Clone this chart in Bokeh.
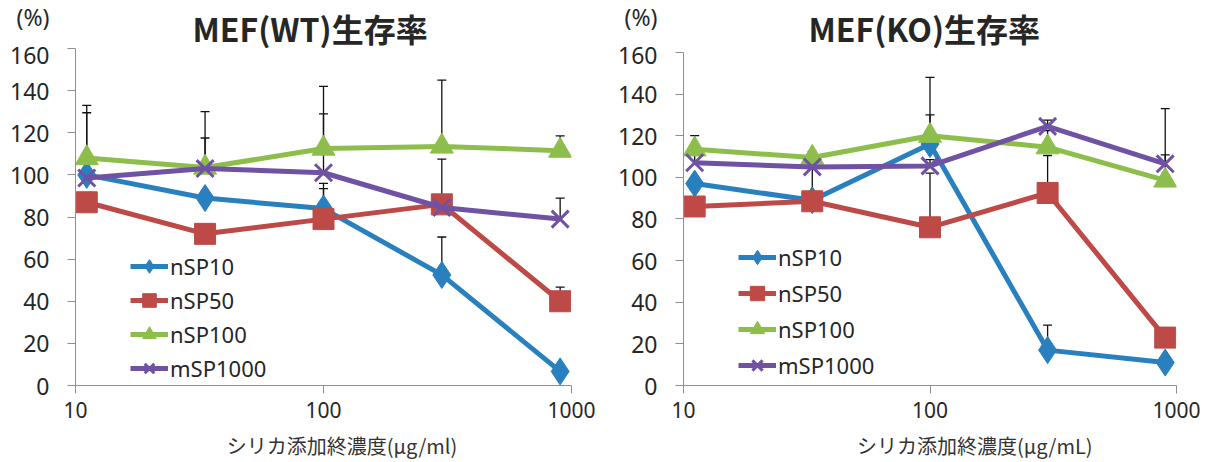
from bokeh.plotting import figure
from bokeh.models import (Range1d, FixedTicker, BasicTickFormatter, Label, Whisker,
                          TeeHead, ColumnDataSource, Legend, LegendItem)
from bokeh.layouts import row, column
from bokeh.embed import file_html
from bokeh.resources import INLINE

# ---- data ----
conc = [11.1, 33.3, 100, 300, 900]
series_names = ["nSP10", "nSP50", "nSP100", "mSP1000"]

wt_nsp10 = [100, 89, 84, 52.5, 6.7]
wt_nsp50 = [87, 72, 79, 86, 40]
wt_nsp100 = [108, 103.5, 112.5, 113.5, 111.5]
wt_msp1000 = [98.5, 103, 101, 84.5, 79]
wt_err_nsp10 = [8, 3, 9.5, 18, 2]
wt_err_nsp50 = [3, 3, 17, 21.5, 6.7]
wt_err_nsp100 = [25, 14, 29.5, 31.5, 7]
wt_err_msp1000 = [31, 27, 28, 3, 10]

ko_nsp10 = [97, 89, 116, 17, 11]
ko_nsp50 = [86, 88.5, 76, 92.5, 23]
ko_nsp100 = [113.5, 109.5, 120, 114.5, 98.5]
ko_msp1000 = [107, 105, 105.5, 124.5, 106.5]
ko_err_nsp10 = [3, 3, 14, 12, 2]
ko_err_nsp50 = [3, 16, 26, 18, 3]
ko_err_nsp100 = [6.5, 3, 28, 8, 12.3]
ko_err_msp1000 = [7, 3, 3, 3, 26.5]

y_ticks = [0, 20, 40, 60, 80, 100, 120, 140, 160]
x_ticks = [10, 100, 1000]

titles = ["MEF(WT)生存率", "MEF(KO)生存率"]
xlabels = ["シリカ添加終濃度(μg/ml)", "シリカ添加終濃度(μg/mL)"]
unit_label = "(%)"

colors = ["#2980BF", "#BD4A47", "#8DBE4C", "#6F52A3"]
markers = ["diamond", "square", "triangle", "x"]
msizes = [27, 21, 23, 24]

TXT = "#262626"
AX = "#8f8f8f"
MAIN_H = 431
FOOTER_H = 31


def make_chart(title, xlabel, vals, errs, width, bl, br, y_top, title_dx,
               xl_x, leg_x, leg_y, row_h):
    p = figure(width=width, height=MAIN_H, x_axis_type="log",
               x_range=Range1d(10, 1000), y_range=Range1d(0, y_top),
               output_backend="svg", toolbar_location=None,
               min_border_left=bl, min_border_right=br, min_border_top=48,
               min_border_bottom=46)
    p.title.text = title
    p.title.align = "left"
    p.title.offset = title_dx
    p.title.standoff = -4
    p.title.text_font = "Noto Sans CJK JP"
    p.title.text_font_style = "bold"
    p.title.text_font_size = "32px"
    p.title.text_color = TXT

    p.outline_line_color = None
    p.xgrid.visible = False
    p.ygrid.visible = False

    p.yaxis.ticker = FixedTicker(ticks=y_ticks, minor_ticks=[])
    p.yaxis.bounds = (0, 160)
    # unit "(%)" sits one line above the top tick label, as in the original
    p.yaxis.major_label_overrides = {160: unit_label + "\n160\n "}
    p.xaxis.ticker = FixedTicker(ticks=x_ticks, minor_ticks=[])
    p.xaxis.formatter = BasicTickFormatter(use_scientific=False)
    for ax in (p.xaxis, p.yaxis):
        ax.axis_line_color = AX
        ax.major_tick_line_color = AX
        ax.major_tick_out = 8
        ax.major_tick_in = 0
        ax.minor_tick_line_color = None
        ax.major_label_text_color = TXT
        ax.major_label_text_font = "Noto Sans"
    p.yaxis.major_label_text_font_size = "23px"
    p.yaxis.major_label_standoff = 18
    p.xaxis.major_label_text_font_size = "21px"
    p.xaxis.major_label_standoff = 8

    items = []
    for i, name in enumerate(series_names):
        src = ColumnDataSource(dict(x=conc, y=vals[i],
                                    upper=[v + e for v, e in zip(vals[i], errs[i])]))
        w = Whisker(source=src, base="x", upper="upper", lower="y",
                    dimension="height", line_color="#111111", line_width=1.3,
                    upper_head=TeeHead(size=9, line_color="#111111", line_width=1.3),
                    lower_head=None, level="underlay")
        p.add_layout(w)
    for i, name in enumerate(series_names):
        src = ColumnDataSource(dict(x=conc, y=vals[i]))
        ln = p.line("x", "y", source=src, line_color=colors[i], line_width=5)
        if markers[i] == "x":
            sc = p.scatter("x", "y", source=src, marker="x", size=msizes[i],
                           line_color=colors[i], line_width=3)
        else:
            sc = p.scatter("x", "y", source=src, marker=markers[i], size=msizes[i],
                           fill_color=colors[i], line_color=colors[i])
        items.append(LegendItem(label=name, renderers=[ln, sc]))

    leg = Legend(items=items, location=(leg_x, leg_y), background_fill_alpha=0,
                 border_line_color=None, label_text_font="Noto Sans",
                 label_text_font_size="22px", label_text_color=TXT,
                 glyph_width=38, glyph_height=row_h, label_height=row_h,
                 label_standoff=2, spacing=0, padding=0, margin=0)
    p.add_layout(leg, "center")

    # footer strip holding the x-axis caption
    f = figure(width=width, height=FOOTER_H, x_range=Range1d(0, width),
               y_range=Range1d(0, FOOTER_H), x_axis_location=None,
               y_axis_location=None, output_backend="svg", toolbar_location=None,
               min_border=0, title=None)
    f.outline_line_color = None
    f.xgrid.visible = False
    f.ygrid.visible = False
    f.add_layout(Label(x=xl_x, y=17, text=xlabel, text_align="center",
                       text_baseline="middle", text_font="Noto Sans CJK JP",
                       text_font_size="20px", text_color="#333333"))
    return column(p, f, spacing=0)


c1 = make_chart(titles[0], xlabels[0],
                [wt_nsp10, wt_nsp50, wt_nsp100, wt_msp1000],
                [wt_err_nsp10, wt_err_nsp50, wt_err_nsp100, wt_err_msp1000],
                width=605, bl=75, br=34, y_top=160, title_dx=117,
                xl_x=325, leg_x=55, leg_y=0, row_h=34)
c2 = make_chart(titles[1], xlabels[1],
                [ko_nsp10, ko_nsp50, ko_nsp100, ko_msp1000],
                [ko_err_nsp10, ko_err_nsp50, ko_err_nsp100, ko_err_msp1000],
                width=606, bl=78, br=35, y_top=161.9, title_dx=125,
                xl_x=358, leg_x=55, leg_y=2, row_h=36)

layout = row(c1, c2, spacing=0)
open("out.html", "w").write(file_html(layout, INLINE))
